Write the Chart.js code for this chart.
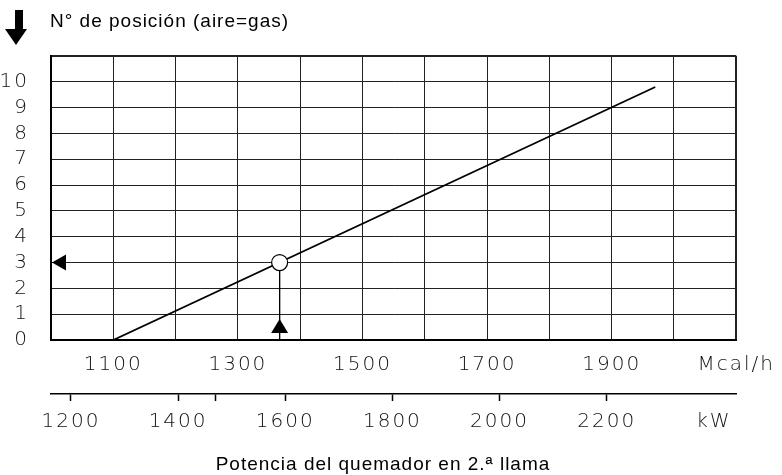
<!DOCTYPE html>
<html>
<head>
<meta charset="utf-8">
<script src="https://cdn.jsdelivr.net/npm/chart.js@4.4.1/dist/chart.umd.min.js"></script>
<style>
  html, body { margin: 0; padding: 0; background: #fff; }
  #chart { display: block; }
</style>
</head>
<body>
<canvas id="chart" width="782" height="475"></canvas>
<script>
// posición del regulador aire=gas según la potencia en 2.ª llama
const positionTicks = [0, 1, 2, 3, 4, 5, 6, 7, 8, 9, 10];
const mcalTicks = [1100, 1300, 1500, 1700, 1900];
const kwTicks = [1200, 1400, 1600, 1800, 2000, 2200];
const kwMinorTicks = [1470];
const curveMcal = [1100, 1970];
const curvePosition = [0, 9.8];
const markMcal = 1367;
const markPosition = 3;

const yTitle = "N° de posición (aire=gas)";
const xTitle = "Potencia del quemador en 2.ª llama";
const mcalUnit = "Mcal/h";
const kwUnit = "kW";

const MCAL_MIN = 1000;
const MCAL_MAX = 2100;
const POSITION_MAX = 11;
const MCAL_PER_KW = 0.86;
const KW_UNIT_AT = 2400;

const tickFont = { family: "'DejaVu Sans'", size: 20, weight: 200 };
const tickColor = "#111";
const gridColor = "#222";

const annotations = {
  id: "annotations",
  beforeDraw(chart) {
    chart.ctx.letterSpacing = "2px";
  },
  afterDraw(chart) {
    const { ctx, chartArea, scales } = chart;
    const { x, y } = scales;
    ctx.save();
    ctx.letterSpacing = "0px";
    ctx.fillStyle = "#000";

    // flecha junto al título del eje vertical
    ctx.fillRect(15, 10, 8, 20);
    ctx.beginPath();
    ctx.moveTo(5, 29);
    ctx.lineTo(27, 29);
    ctx.lineTo(16, 45);
    ctx.closePath();
    ctx.fill();

    // flecha hacia la escala de posiciones
    const py = y.getPixelForValue(markPosition);
    ctx.beginPath();
    ctx.moveTo(chartArea.left + 1, py);
    ctx.lineTo(chartArea.left + 15, py - 8);
    ctx.lineTo(chartArea.left + 15, py + 8);
    ctx.closePath();
    ctx.fill();

    // flecha sobre la línea de potencia
    const px = x.getPixelForValue(markMcal);
    const by = chartArea.bottom;
    ctx.beginPath();
    ctx.moveTo(px, by - 21);
    ctx.lineTo(px + 8.5, by - 7);
    ctx.lineTo(px - 8.5, by - 7);
    ctx.closePath();
    ctx.fill();

    ctx.font = "19px 'Liberation Sans'";
    ctx.letterSpacing = "1px";
    ctx.textBaseline = "alphabetic";
    ctx.textAlign = "left";
    ctx.fillText(yTitle, 50, 27);
    ctx.textAlign = "center";
    ctx.fillText(xTitle, 383, 469.5);
    ctx.restore();
  },
};

new Chart(document.getElementById("chart"), {
  type: "line",
  data: {
    datasets: [
      {
        label: "punto",
        data: [
          { x: markMcal, y: markPosition },
          { x: markMcal, y: 0 },
        ],
        borderColor: "#000",
        borderWidth: 1,
        pointRadius: [8, 0],
        pointBackgroundColor: "#fff",
        pointBorderColor: "#000",
        pointBorderWidth: 1.2,
        xAxisID: "x",
        yAxisID: "y",
      },
      {
        label: "posición",
        data: curveMcal.map((v, i) => ({ x: v, y: curvePosition[i] })),
        borderColor: "#000",
        borderWidth: 1.8,
        pointRadius: 0,
        xAxisID: "x",
        yAxisID: "y",
      },
    ],
  },
  options: {
    responsive: false,
    animation: false,
    devicePixelRatio: 1,
    layout: { padding: { top: 56, right: 44.3, left: 0, bottom: 0 } },
    plugins: { legend: { display: false }, tooltip: { enabled: false } },
    scales: {
      y: {
        type: "linear",
        min: 0,
        max: POSITION_MAX,
        afterBuildTicks: (s) => {
          s.ticks = [...positionTicks, POSITION_MAX].map((v) => ({ value: v }));
        },
        afterFit: (s) => {
          s.width = 51;
        },
        grid: {
          color: gridColor,
          lineWidth: (c) => (c.tick && c.tick.value === POSITION_MAX ? 2 : 1),
          drawTicks: false,
        },
        border: { display: true, color: "#000", width: 2 },
        ticks: {
          autoSkip: false,
          padding: 22,
          font: tickFont,
          color: tickColor,
          callback: (v) => (positionTicks.includes(v) ? String(v) : ""),
        },
      },
      x: {
        type: "linear",
        position: "bottom",
        min: MCAL_MIN,
        max: MCAL_MAX,
        afterFit: (s) => {
          s.height = 54;
        },
        grid: {
          color: gridColor,
          lineWidth: (c) => (c.tick && c.tick.value === MCAL_MAX ? 2 : 1),
          drawTicks: false,
        },
        border: { display: true, color: "#000", width: 2 },
        ticks: {
          stepSize: 100,
          autoSkip: false,
          maxRotation: 0,
          padding: 13,
          font: tickFont,
          color: tickColor,
          callback: (v) =>
            mcalTicks.includes(v) ? String(v) : v === MCAL_MAX ? mcalUnit : "",
        },
      },
      x2: {
        type: "linear",
        position: "bottom",
        min: MCAL_MIN / MCAL_PER_KW,
        max: MCAL_MAX / MCAL_PER_KW,
        afterBuildTicks: (s) => {
          s.ticks = [...kwTicks, ...kwMinorTicks, KW_UNIT_AT]
            .sort((a, b) => a - b)
            .map((v) => ({ value: v }));
        },
        afterFit: (s) => {
          s.height = 81;
        },
        grid: {
          drawOnChartArea: false,
          drawTicks: true,
          tickLength: 7,
          tickWidth: 1.5,
          tickColor: (c) =>
            c.tick && c.tick.value === KW_UNIT_AT ? "rgba(0,0,0,0)" : "#000",
        },
        border: { display: true, color: "#000", width: 1.5 },
        ticks: {
          autoSkip: false,
          maxRotation: 0,
          padding: 9,
          font: tickFont,
          color: tickColor,
          callback: (v) =>
            kwTicks.includes(v) ? String(v) : v === KW_UNIT_AT ? kwUnit : "",
        },
      },
    },
  },
  plugins: [annotations],
});
</script>
</body>
</html>
